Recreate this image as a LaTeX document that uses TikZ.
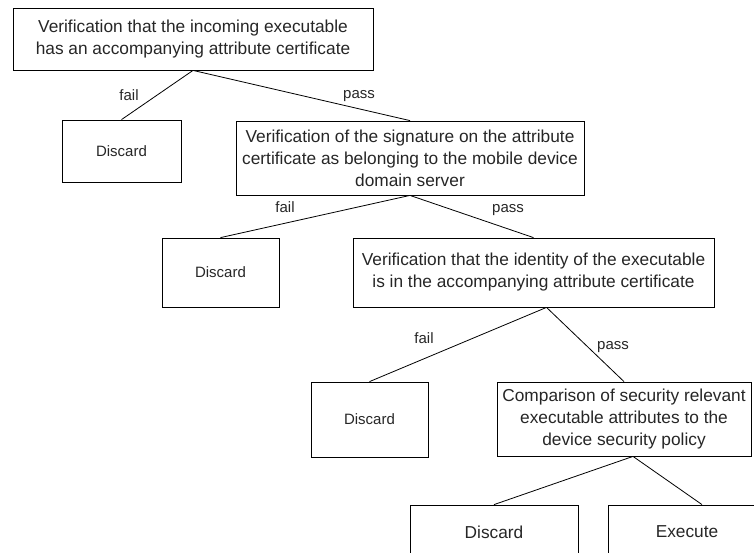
\documentclass[tikz,border=0pt]{standalone}
\usepackage{fontspec}
\setmainfont{Liberation Sans}
\begin{document}
\begin{tikzpicture}[x=1pt, y=-1pt, line width=0.8pt,
        check/.style = {draw, align=center, inner sep=0pt, text=black!85,
                        font=\fontsize{17.3}{22}\selectfont},
        drop/.style = {draw, inner sep=0pt, text=black!85,
                       font=\fontsize{15}{18}\selectfont},
        branch/.style = {inner sep=0pt, text=black!85, text height=11pt, text depth=3pt,
                         font=\fontsize{15}{18}\selectfont}]
        \useasboundingbox (0, 0) rectangle (754, 552);
        % the checks, top to bottom
        \node[check, minimum width=360, minimum height=62] (has) at (193, 39)
            {Verification that the incoming executable\\has an accompanying attribute certificate};
        \node[check, minimum width=348, minimum height=74] (sig) at (410, 158)
            {Verification of the signature on the attribute\\certificate as belonging to the mobile device\\domain server};
        \node[check, minimum width=361, minimum height=69] (ident) at (533.5, 272.5)
            {Verification that the identity of the executable\\is in the accompanying attribute certificate};
        \node[check, minimum width=254, minimum height=74] (policy) at (624, 419)
            {Comparison of security relevant\\executable attributes to the\\device security policy};
        % the outcomes
        \node[drop, minimum width=119, minimum height=62] (drop1) at (121.5, 151) {Discard};
        \node[drop, minimum width=117, minimum height=69] (drop2) at (220.5, 272.5) {Discard};
        \node[drop, minimum width=117, minimum height=75] (drop3) at (369.5, 419.5) {Discard};
        \node[check, minimum width=168, minimum height=54] (drop4) at (494, 532) {Discard};
        \node[check, minimum width=158, minimum height=54] (run) at (687, 532) {Execute};
        % branches
        \draw (has.south) -- (drop1.north);
        \draw (has.south) -- (sig.north);
        \draw (sig.south) -- (drop2.north);
        \draw (sig.south) -- (ident.north);
        \draw ([xshift=13]ident.south) -- (drop3.north);
        \draw ([xshift=13]ident.south) -- (policy.north);
        \draw ([xshift=9]policy.south) -- (drop4.north);
        \draw ([xshift=9]policy.south) -- ([xshift=15]run.north);
        \node[branch] (fail1) at (129, 96) {fail};
        \node[branch] (pass1) at (359, 94) {pass};
        \node[branch] (fail2) at (285, 208) {fail};
        \node[branch] (pass2) at (508, 208) {pass};
        \node[branch] (fail3) at (424, 339) {fail};
        \node[branch] (pass3) at (613, 345) {pass};
\end{tikzpicture}
\end{document}
